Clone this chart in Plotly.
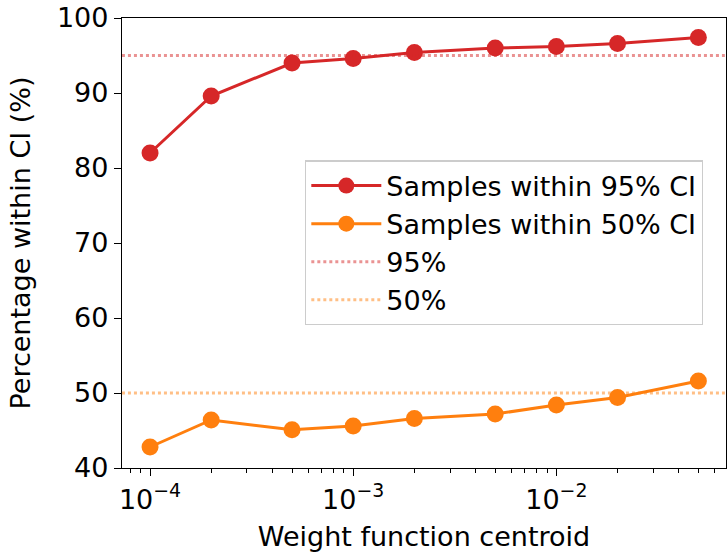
import plotly.graph_objects as go

centroids = [1e-4, 2e-4, 5e-4, 1e-3, 2e-3, 5e-3, 1e-2, 2e-2, 5e-2]
within95 = [82.0, 89.6, 94.0, 94.6, 95.4, 96.0, 96.2, 96.6, 97.4]
within50 = [42.8, 46.4, 45.1, 45.6, 46.6, 47.2, 48.4, 49.4, 51.6]
ref_levels = [95, 50]
x_tick_vals = [1e-4, 1e-3, 1e-2]
x_tick_text = ["10<sup>\u22124</sup>", "10<sup>\u22123</sup>", "10<sup>\u22122</sup>"]
y_ticks = [40, 50, 60, 70, 80, 90, 100]

RED = "#d62728"
ORANGE = "#ff7f0e"
FONT = "DejaVu Sans"
FS = 27

fig = go.Figure()
fig.add_trace(go.Scatter(x=centroids, y=within95, mode="lines+markers",
                         name="Samples within 95% CI", legendgroup="a",
                         line=dict(color=RED, width=3),
                         marker=dict(color=RED, size=17)))
fig.add_trace(go.Scatter(x=centroids, y=within50, mode="lines+markers",
                         name="Samples within 50% CI", legendgroup="b",
                         line=dict(color=ORANGE, width=3),
                         marker=dict(color=ORANGE, size=17)))
xr = [1e-4 / 1.375, 5e-2 * 1.35]
fig.add_trace(go.Scatter(x=xr, y=[ref_levels[0]] * 2, mode="lines", name="95%",
                         legendgroup="c",
                         line=dict(color="rgba(214,39,40,0.5)", width=3, dash="dot")))
fig.add_trace(go.Scatter(x=xr, y=[ref_levels[1]] * 2, mode="lines", name="50%",
                         legendgroup="d",
                         line=dict(color="rgba(255,127,14,0.5)", width=3, dash="dot")))

fig.update_layout(
    width=728, height=552,
    margin=dict(l=122, r=2, t=18, b=84),
    plot_bgcolor="white", paper_bgcolor="white",
    font=dict(family=FONT, size=FS, color="black"),
    showlegend=True,
    legend=dict(x=0.303, y=0.684, xanchor="left", yanchor="top",
                bordercolor="#cccccc", borderwidth=1.3, bgcolor="rgba(255,255,255,0.8)",
                font=dict(family=FONT, size=FS), traceorder="grouped",
                tracegroupgap=0, itemwidth=70),
)
fig.update_xaxes(type="log", range=[-4.138, -1.165],
                 tickvals=x_tick_vals, ticktext=x_tick_text,
                 ticks="outside", ticklen=7, tickwidth=1.3, tickcolor="black",
                 showline=True, linecolor="black", linewidth=1.3, mirror=True,
                 showgrid=False, zeroline=False,
                 minor=dict(ticks="outside", ticklen=4, tickwidth=1, tickcolor="black",
                            dtick="D1", showgrid=False),
                 title=dict(text="Weight function centroid", font=dict(size=FS), standoff=14),
                 tickfont=dict(size=FS))
fig.update_yaxes(range=[40, 100], tickvals=y_ticks,
                 ticks="outside", ticklen=7, tickwidth=1.3, tickcolor="black",
                 showline=True, linecolor="black", linewidth=1.3, mirror=True,
                 showgrid=False, zeroline=False,
                 title=dict(text="Percentage within CI (%)", font=dict(size=FS), standoff=18),
                 tickfont=dict(size=FS))

fig.write_html("out.html")
